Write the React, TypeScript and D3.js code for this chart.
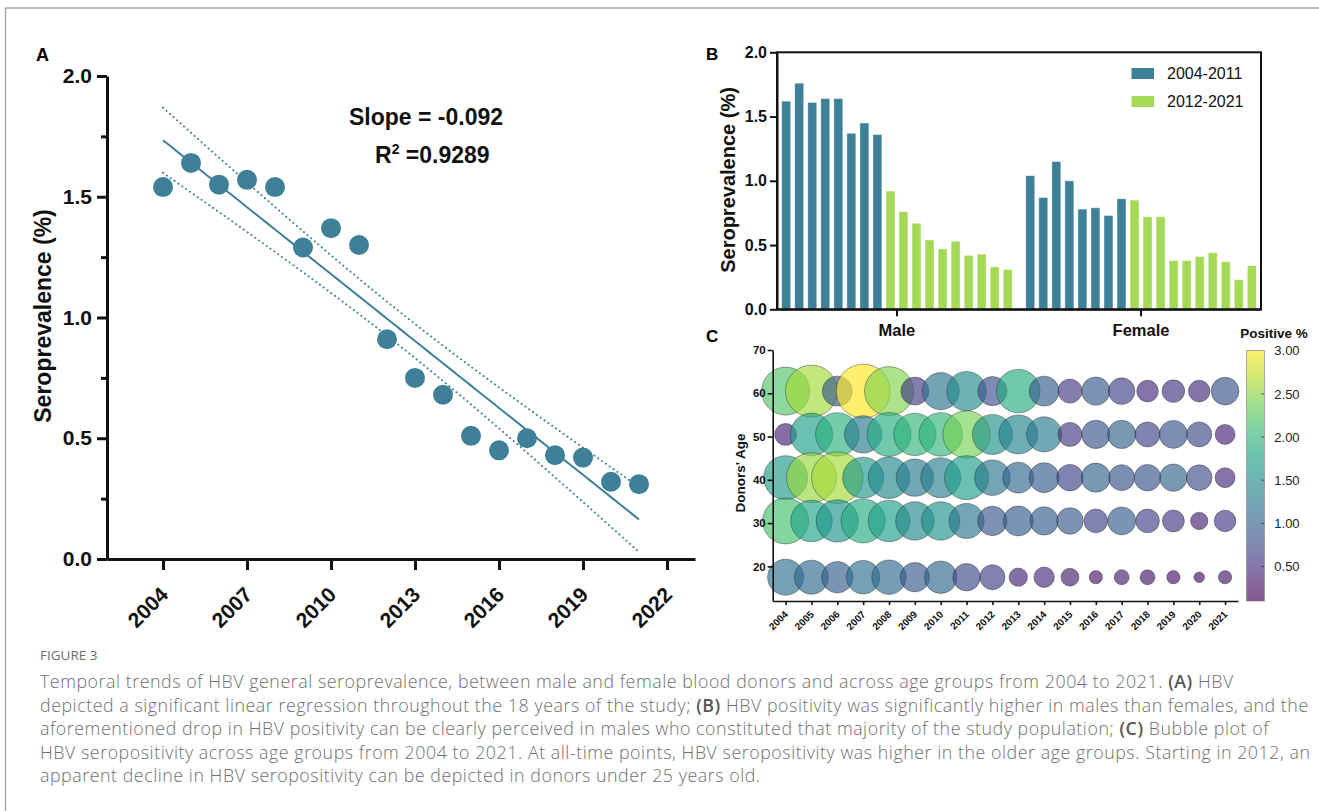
import React, { useEffect, useRef } from 'react';
import * as d3 from 'd3';

// ---- data ----
const years = [2004, 2005, 2006, 2007, 2008, 2009, 2010, 2011, 2012, 2013, 2014, 2015, 2016, 2017, 2018, 2019, 2020, 2021];

// Panel A: overall seroprevalence (%)
const overallPrev = [1.54, 1.64, 1.55, 1.57, 1.54, 1.29, 1.37, 1.30, 0.91, 0.75, 0.68, 0.51, 0.45, 0.50, 0.43, 0.42, 0.32, 0.31];
const xTicksA = [2004, 2007, 2010, 2013, 2016, 2019, 2022];
const yTicksA = [0, 0.5, 1.0, 1.5, 2.0];
const yMinorA = [0.25, 0.75, 1.25, 1.75];

// Panel B: seroprevalence by sex (%)
const sexes = ['Male', 'Female'];
const malePrev = [1.62, 1.76, 1.61, 1.64, 1.64, 1.37, 1.45, 1.36, 0.92, 0.76, 0.67, 0.54, 0.47, 0.53, 0.42, 0.43, 0.33, 0.31];
const femalePrev = [1.04, 0.87, 1.15, 1.00, 0.78, 0.79, 0.73, 0.86, 0.85, 0.72, 0.72, 0.38, 0.38, 0.41, 0.44, 0.37, 0.23, 0.34];
const periods = ['2004-2011', '2012-2021'];
const yTicksB = [0, 0.5, 1.0, 1.5, 2.0];

// Panel C: bubble plot, one row per age group
const ageRows = [60.5, 50.5, 40.5, 30.5, 17.5];
const pos60 = [2.2, 2.6, 0.9, 3.0, 2.45, 0.6, 1.2, 1.5, 0.8, 1.9, 0.95, 0.6, 0.9, 0.7, 0.45, 0.55, 0.45, 0.85];
const pos50 = [0.4, 1.75, 1.95, 1.3, 1.9, 2.0, 2.0, 2.4, 1.55, 1.4, 1.3, 0.6, 0.85, 1.0, 0.7, 0.85, 0.75, 0.4];
const pos40 = [1.7, 2.55, 2.6, 1.65, 1.45, 1.3, 1.35, 1.75, 1.25, 1.05, 0.95, 0.7, 1.0, 0.85, 0.85, 1.0, 0.8, 0.45];
const pos30 = [2.15, 1.8, 1.6, 1.9, 1.75, 1.45, 1.55, 1.25, 0.9, 0.95, 0.95, 0.9, 0.7, 0.95, 0.65, 0.6, 0.4, 0.6];
const pos18 = [1.15, 1.1, 0.95, 1.15, 1.1, 0.9, 1.05, 0.75, 0.65, 0.4, 0.45, 0.35, 0.3, 0.35, 0.3, 0.25, 0.2, 0.3];
const n60 = [144, 169, 56, 182, 150, 49, 86, 97, 53, 118, 56, 36, 50, 44, 29, 32, 29, 48];
const n50 = [30, 113, 118, 87, 121, 112, 118, 140, 100, 95, 77, 36, 50, 50, 39, 49, 39, 25];
const n40 = [121, 156, 166, 105, 108, 87, 100, 121, 79, 60, 56, 44, 53, 42, 44, 47, 41, 25];
const n30 = [132, 108, 112, 121, 108, 92, 92, 77, 54, 56, 50, 44, 35, 49, 35, 30, 19, 29];
const n18 = [81, 72, 62, 70, 74, 54, 66, 47, 39, 21, 26, 20, 11, 14, 14, 11, 7, 11];
const posRows = [pos60, pos50, pos40, pos30, pos18];
const countRows = [n60, n50, n40, n30, n18];
const yTicksC = [20, 30, 40, 50, 60, 70];
const legendTicksC = [0.5, 1.0, 1.5, 2.0, 2.5, 3.0];

const captionLines: Array<Array<[string, boolean]>> = [
    [['Temporal trends of HBV general seroprevalence, between male and female blood donors and across age groups from 2004 to 2021. ', false], ['(A)', true], [' HBV', false]],
    [['depicted a significant linear regression throughout the 18 years of the study; ', false], ['(B)', true], [' HBV positivity was significantly higher in males than females, and the', false]],
    [['aforementioned drop in HBV positivity can be clearly perceived in males who constituted that majority of the study population; ', false], ['(C)', true], [' Bubble plot of', false]],
    [['HBV seropositivity across age groups from 2004 to 2021. At all-time points, HBV seropositivity was higher in the older age groups. Starting in 2012, an', false]],
    [['apparent decline in HBV seropositivity can be depicted in donors under 25 years old.', false]],
];

const FONT = '"Liberation Sans", Arial, sans-serif';
const CAP_FONT = '"Open Sans", Lato, sans-serif';
const TEAL = '#3e8098';
const LIME = '#a5da57';
const INK = '#111';

const App: React.FC = () => {
    const ref = useRef<SVGSVGElement | null>(null);

    useEffect(() => {
        document.body.style.margin = '0';
        document.body.style.overflow = 'hidden';
        const svg = d3.select(ref.current);
        svg.selectAll('*').remove();

        // outer frame of the figure page
        svg.append('rect').attr('x', 5.5).attr('y', 8).attr('width', 1400).attr('height', 900)
            .attr('fill', 'none').attr('stroke', '#a0a0a0').attr('stroke-width', 1.3);

        const styleAxis = (g: any, size: number, weight = 'bold', width = 2) => {
            g.attr('font-family', FONT).attr('font-size', size).attr('font-weight', weight);
            g.selectAll('.domain').attr('stroke', INK).attr('stroke-width', width);
            g.selectAll('line').attr('stroke', INK).attr('stroke-width', width);
            g.selectAll('text').attr('fill', INK);
        };

        // ================= Panel A =================
        const xA = d3.scaleLinear().domain([2002, 2023]).range([107, 695]);
        const yA = d3.scaleLinear().domain([0, 2]).range([559, 76]);
        const gA = svg.append('g');

        gA.append('text').attr('x', 36).attr('y', 61).text('A')
            .attr('font-family', FONT).attr('font-size', 18).attr('font-weight', 'bold');

        // linear regression with 95% confidence band
        const n = years.length;
        const mx = d3.mean(years) as number;
        const my = d3.mean(overallPrev) as number;
        const sxx = d3.sum(years, x => (x - mx) ** 2);
        const sxy = d3.sum(years, (x, i) => (x - mx) * (overallPrev[i] - my));
        const slope = sxy / sxx;
        const icpt = my - slope * mx;
        const sse = d3.sum(years, (x, i) => (overallPrev[i] - (icpt + slope * x)) ** 2);
        const s = Math.sqrt(sse / (n - 2));
        const tCrit = 2.12; // t(0.975, df = 16)
        const fitAt = (x: number) => icpt + slope * x;
        const ci = (x: number) => tCrit * s * Math.sqrt(1 / n + (x - mx) ** 2 / sxx);
        const xs = d3.range(years[0], years[n - 1] + 0.001, 0.25);

        gA.append('path').datum(xs).attr('fill', 'none').attr('stroke', TEAL).attr('stroke-width', 2)
            .attr('d', d3.line<number>().x(d => xA(d)).y(d => yA(fitAt(d))));
        [1, -1].forEach(sign => {
            gA.append('path').datum(xs).attr('fill', 'none').attr('stroke', TEAL).attr('stroke-width', 2)
                .attr('stroke-linecap', 'round').attr('stroke-dasharray', '0.1 4.6')
                .attr('d', d3.line<number>().x(d => xA(d)).y(d => yA(fitAt(d) + sign * ci(d))));
        });

        gA.append('g').selectAll('circle').data(overallPrev).join('circle')
            .attr('cx', (d, i) => xA(years[i])).attr('cy', d => yA(d)).attr('r', 10).attr('fill', TEAL);

        const yAxA = gA.append('g').attr('transform', 'translate(107,0)')
            .call(d3.axisLeft(yA).tickValues(yTicksA).tickSize(10).tickPadding(5).tickSizeOuter(0).tickFormat(d3.format('.1f')));
        styleAxis(yAxA, 21, 'bold', 3);
        const yMinA = gA.append('g').attr('transform', 'translate(107,0)')
            .call(d3.axisLeft(yA).tickValues(yMinorA).tickSize(6).tickFormat(() => ''));
        yMinA.select('.domain').remove();
        yMinA.selectAll('line').attr('stroke', INK).attr('stroke-width', 3);

        const xAxA = gA.append('g').attr('transform', 'translate(0,559)')
            .call(d3.axisBottom(xA).tickValues(xTicksA).tickSize(11).tickSizeOuter(0).tickFormat(d3.format('d')));
        styleAxis(xAxA, 21, 'bold', 3);
        xAxA.selectAll('text').attr('y', 0).attr('dy', null).attr('text-anchor', 'end')
            .attr('transform', 'translate(6,37) rotate(-45)');

        gA.append('text').attr('transform', 'translate(51,316) rotate(-90)').attr('text-anchor', 'middle')
            .attr('font-family', FONT).attr('font-size', 23).attr('font-weight', 'bold').attr('fill', INK)
            .text('Seroprevalence (%)');

        gA.append('text').attr('x', 426).attr('y', 125).attr('text-anchor', 'middle')
            .attr('font-family', FONT).attr('font-size', 23).attr('font-weight', 'bold').attr('fill', INK)
            .text(`Slope = ${d3.format('.3f')(slope).replace('\u2212', '-')}`);
        const r2 = 1 - sse / d3.sum(overallPrev, v => (v - my) ** 2);
        const r2t = gA.append('text').attr('x', 375).attr('y', 163)
            .attr('font-family', FONT).attr('font-size', 23).attr('font-weight', 'bold').attr('fill', INK);
        r2t.append('tspan').text('R');
        r2t.append('tspan').attr('dy', -9).attr('font-size', 14).text('2');
        r2t.append('tspan').attr('dy', 9).text(` =${d3.format('.4f')(r2)}`);

        // ================= Panel B =================
        const gB = svg.append('g');
        const xB = d3.scaleBand<string>().domain(sexes).range([777, 1261]).paddingInner(0.039).paddingOuter(0.011);
        const xYear = d3.scaleBand<number>().domain(years).range([0, xB.bandwidth()]).paddingInner(0.31).paddingOuter(0.155);
        const yB = d3.scaleLinear().domain([0, 2]).range([309.3, 52.3]);
        const periodOf = (y: number) => (y <= 2011 ? periods[0] : periods[1]);
        const colB = d3.scaleOrdinal<string, string>().domain(periods).range([TEAL, LIME]);

        gB.append('text').attr('x', 706).attr('y', 60).text('B')
            .attr('font-family', FONT).attr('font-size', 17).attr('font-weight', 'bold');

        [malePrev, femalePrev].forEach((vals, gi) => {
            gB.append('g').attr('transform', `translate(${xB(sexes[gi])},0)`)
                .selectAll('rect').data(vals).join('rect')
                .attr('x', (d, i) => xYear(years[i]) as number).attr('width', xYear.bandwidth())
                .attr('y', d => yB(d)).attr('height', d => yB(0) - yB(d))
                .attr('fill', (d, i) => colB(periodOf(years[i])))
                .attr('stroke', 'rgba(255,255,255,0.55)').attr('stroke-width', 0.8);
        });

        gB.append('rect').attr('x', 777).attr('y', 52.3).attr('width', 1261 - 777).attr('height', 309.3 - 52.3)
            .attr('fill', 'none').attr('stroke', INK).attr('stroke-width', 2);
        const yAxB = gB.append('g').attr('transform', 'translate(777,0)')
            .call(d3.axisLeft(yB).tickValues(yTicksB).tickSize(7).tickPadding(3).tickSizeOuter(0).tickFormat(d3.format('.1f')));
        styleAxis(yAxB, 16, 'bold', 2);
        const xAxB = gB.append('g').attr('transform', 'translate(0,309.3)')
            .call(d3.axisBottom(xB).tickSize(7).tickSizeOuter(0));
        styleAxis(xAxB, 16.5, 'bold', 2);
        xAxB.selectAll('text').attr('y', 27).attr('dy', null);

        gB.append('text').attr('transform', 'translate(735,180) rotate(-90)').attr('text-anchor', 'middle')
            .attr('font-family', FONT).attr('font-size', 20).attr('font-weight', 'bold').attr('fill', INK)
            .text('Seroprevalence (%)');

        const legB = gB.append('g').attr('transform', 'translate(1131.5,68)');
        periods.forEach((p, i) => {
            const row = legB.append('g').attr('transform', `translate(0,${i * 28})`);
            row.append('rect').attr('width', 22.5).attr('height', 11).attr('fill', colB(p));
            row.append('text').attr('x', 35.5).attr('y', 5.5).attr('dy', '0.35em')
                .attr('font-family', FONT).attr('font-size', 16).attr('fill', INK).text(p);
        });

        // ================= Panel C =================
        const gC = svg.append('g');
        const xC = d3.scalePoint<number>().domain(years).range([772.7, 1238]).padding(0.5);
        const yC = d3.scaleLinear().domain([12, 70]).range([601, 350]);
        const rC = d3.scaleSqrt().domain([0, 200]).range([0, 28.3]);
        const colC = d3.scaleSequential(d3.interpolateViridis).domain([0.1, 3]);

        gC.append('text').attr('x', 706).attr('y', 342).text('C')
            .attr('font-family', FONT).attr('font-size', 17).attr('font-weight', 'bold');

        const bubbles = ageRows.flatMap((age, ri) => years.map((yr, i) => ({
            yr, age, pos: posRows[ri][i], cnt: countRows[ri][i],
        })));
        gC.append('g').selectAll('circle').data(bubbles).join('circle')
            .attr('cx', d => xC(d.yr) as number).attr('cy', d => yC(d.age)).attr('r', d => rC(d.cnt))
            .attr('fill', d => colC(d.pos)).attr('fill-opacity', 0.66)
            .attr('stroke', '#222').attr('stroke-opacity', 0.5).attr('stroke-width', 0.8);

        const yAxC = gC.append('g').attr('transform', 'translate(772.7,0)')
            .call(d3.axisLeft(yC).tickValues(yTicksC).tickSize(5).tickPadding(2).tickSizeOuter(0));
        styleAxis(yAxC, 11.5, 'bold', 1.6);
        const xAxC = gC.append('g').attr('transform', 'translate(0,601)')
            .call(d3.axisBottom(xC).tickSize(4).tickSizeOuter(0).tickFormat(d3.format('d')));
        styleAxis(xAxC, 10, 'bold', 1.6);
        xAxC.selectAll('text').attr('y', 0).attr('dy', null).attr('text-anchor', 'end')
            .attr('transform', 'translate(2.6,14) rotate(-45)');

        gC.append('text').attr('transform', 'translate(745,473) rotate(-90)').attr('text-anchor', 'middle')
            .attr('font-family', FONT).attr('font-size', 13.5).attr('font-weight', 'bold').attr('fill', INK)
            .text("Donors' Age");

        // colour legend
        const cbX = 1246.7, cbW = 17.6;
        const yCB = d3.scaleLinear().domain([0.1, 3]).range([601, 350.7]);
        const grad = svg.append('defs').append('linearGradient').attr('id', 'cbGrad')
            .attr('x1', 0).attr('y1', 1).attr('x2', 0).attr('y2', 0);
        d3.range(0, 1.0001, 0.1).forEach(t => {
            grad.append('stop').attr('offset', t).attr('stop-color', colC(0.1 + t * 2.9));
        });
        gC.append('rect').attr('x', cbX).attr('y', yCB(3)).attr('width', cbW).attr('height', yCB(0.1) - yCB(3))
            .attr('fill', 'url(#cbGrad)').attr('fill-opacity', 0.66).attr('stroke', '#777').attr('stroke-width', 0.6);
        const cb = gC.append('g').attr('transform', `translate(${cbX + cbW},0)`)
            .call(d3.axisRight(yCB).tickValues(legendTicksC).tickSize(0).tickPadding(10).tickFormat(d3.format('.2f')));
        cb.select('.domain').remove();
        cb.attr('font-family', FONT).attr('font-size', 13).selectAll('text').attr('fill', '#222');
        gC.append('g').selectAll('line').data(legendTicksC.slice(0, 5)).join('line')
            .attr('x1', cbX + cbW - 3).attr('x2', cbX + cbW).attr('y1', d => yCB(d)).attr('y2', d => yCB(d))
            .attr('stroke', '#333').attr('stroke-width', 0.8);
        gC.append('text').attr('x', 1274).attr('y', 338).attr('text-anchor', 'middle')
            .attr('font-family', FONT).attr('font-size', 13.5).attr('font-weight', 'bold').attr('fill', INK)
            .text('Positive %');

        // ================= Caption =================
        const cap = svg.append('g').attr('font-family', CAP_FONT).attr('fill', '#6e6e6e');
        cap.append('text').attr('x', 40).attr('y', 660).attr('font-size', 13.5).text('FIGURE 3');
        captionLines.forEach((segs, li) => {
            const t = cap.append('text').attr('x', 40).attr('y', 688 + li * 23.6)
                .attr('font-size', 17.8).attr('font-weight', 300).attr('letter-spacing', 0.55);
            segs.forEach(([str, bold]) => {
                t.append('tspan').attr('font-weight', bold ? 600 : 300)
                    .attr('fill', bold ? '#555' : null).text(str);
            });
        });
    }, []);

    return <svg ref={ref} width={1319} height={811} style={{ display: 'block', background: '#fff' }}></svg>;
};

export default App;
